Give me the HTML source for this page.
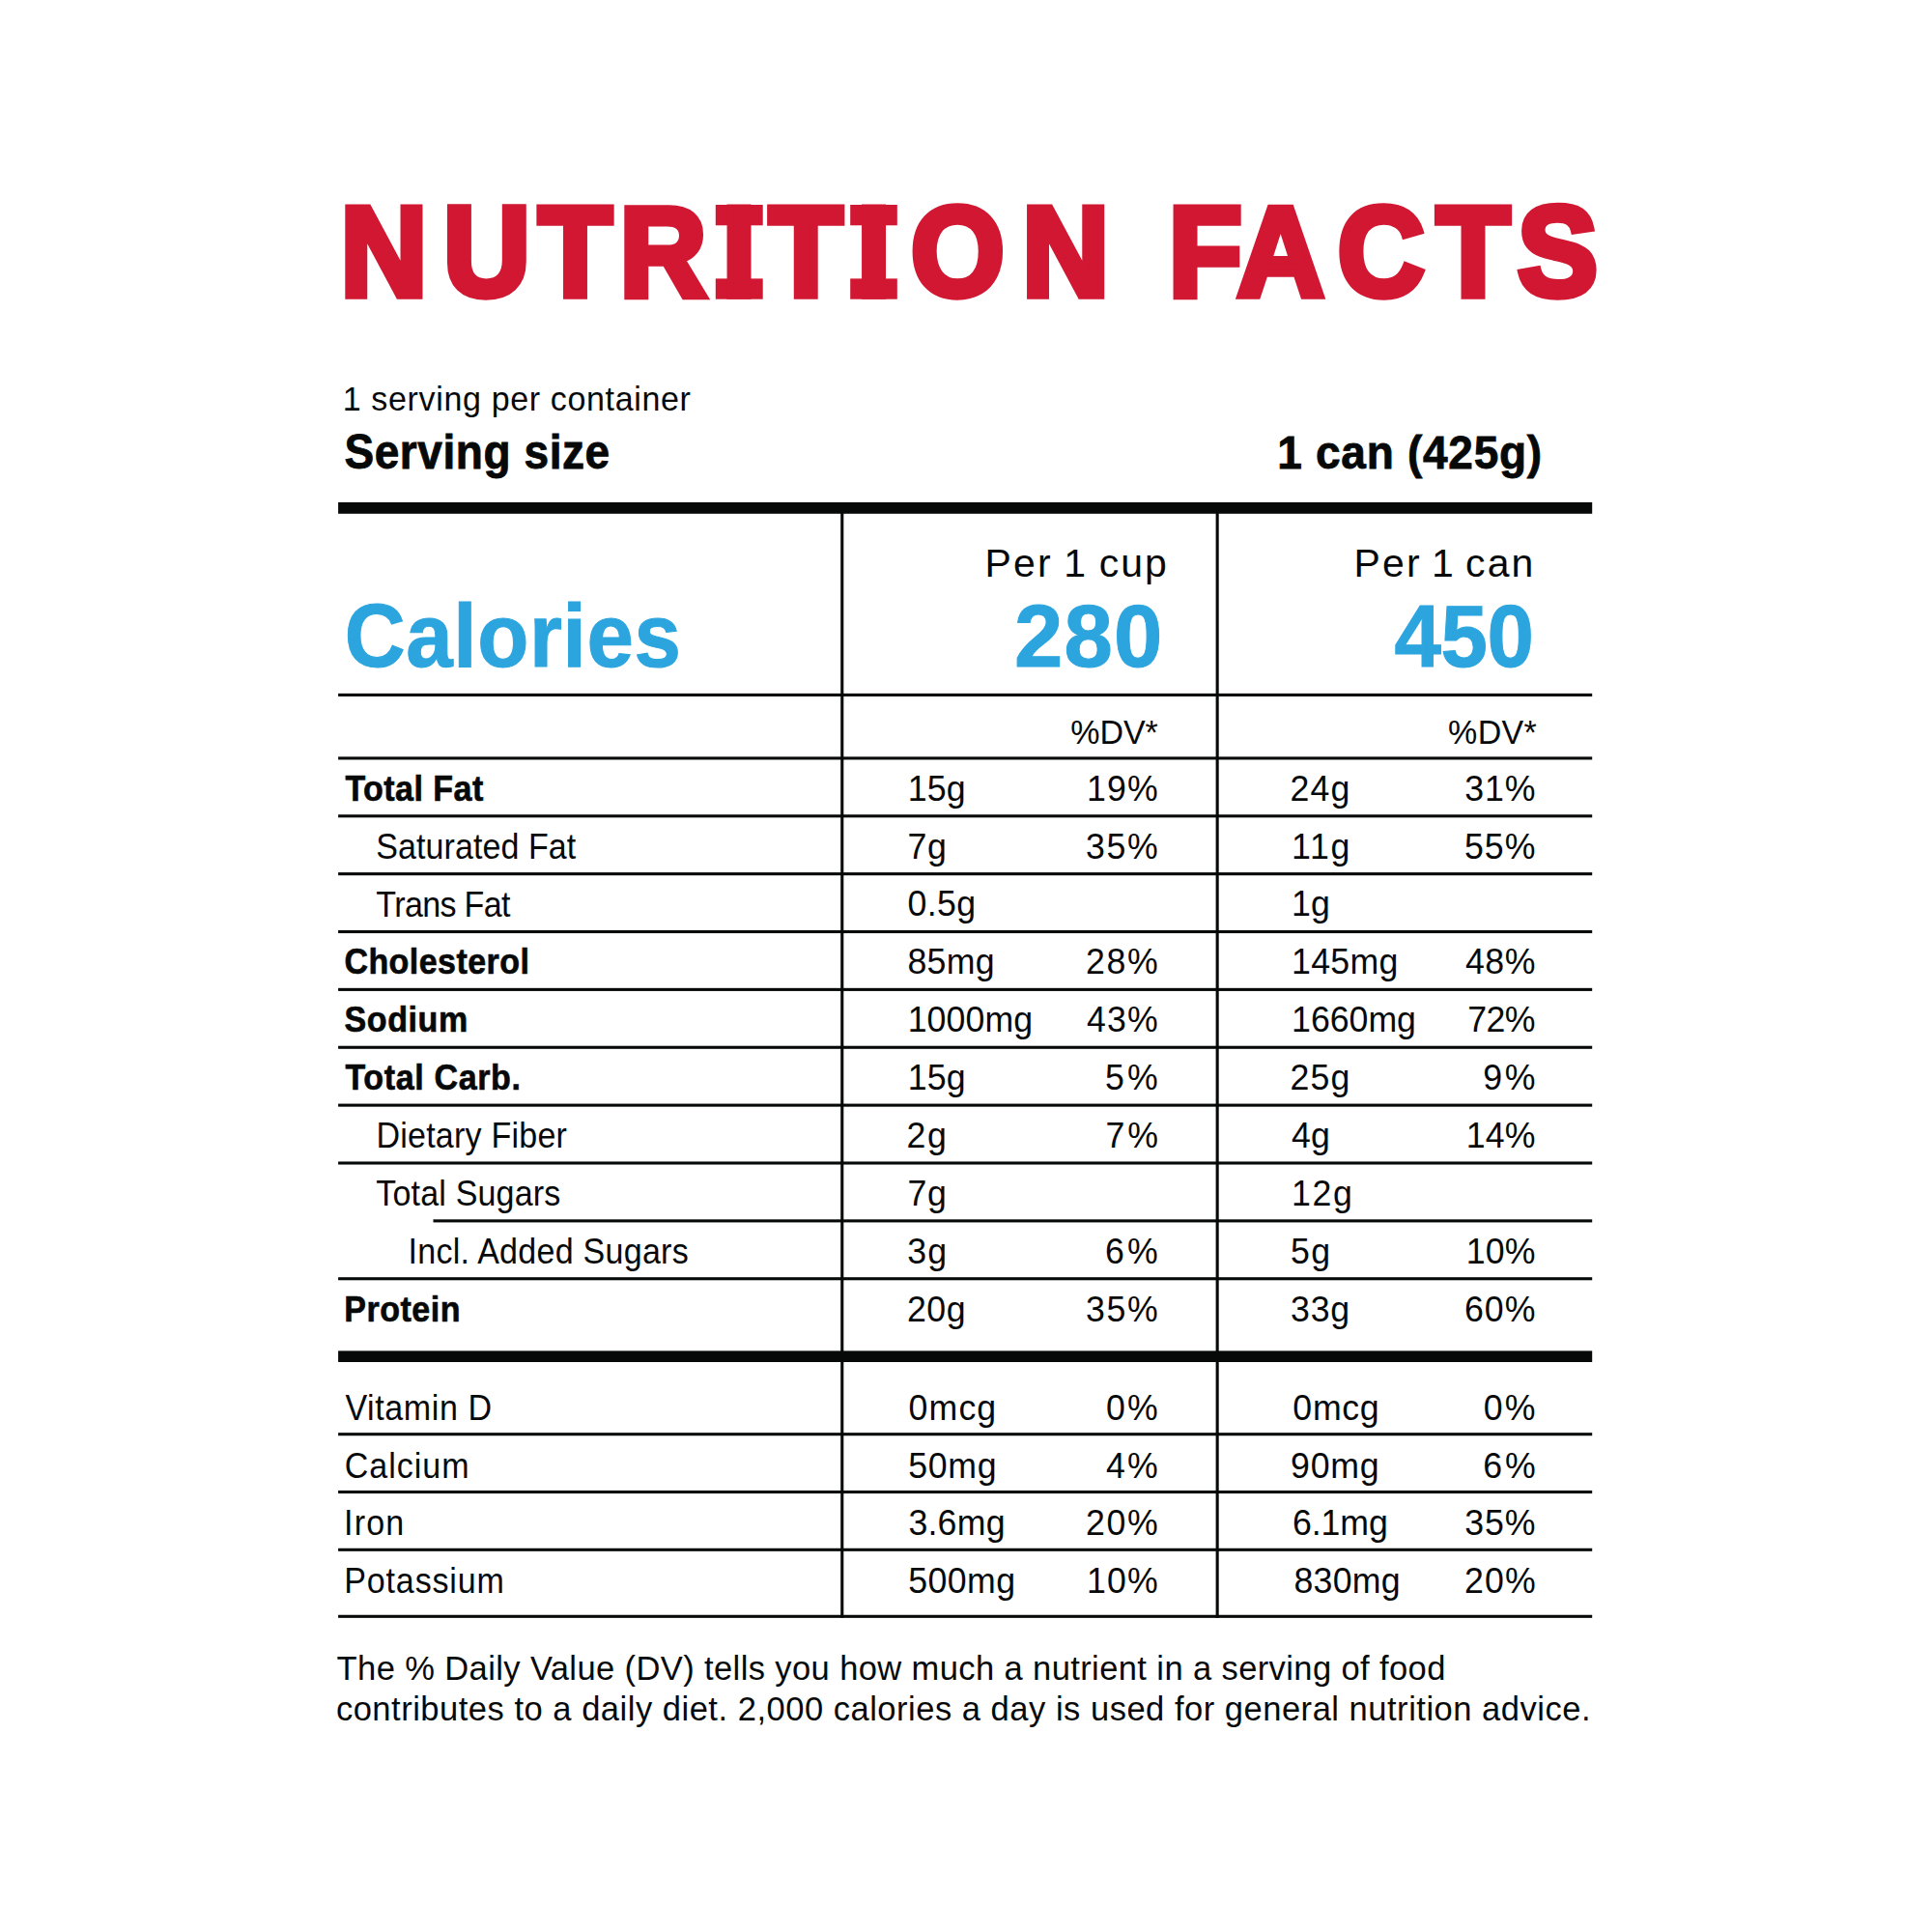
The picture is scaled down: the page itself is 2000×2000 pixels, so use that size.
<!DOCTYPE html>
<html lang="en">
<head>
<meta charset="utf-8">
<title>Nutrition Facts</title>
<style>
html,body{margin:0;padding:0;background:#fff;}
body{width:2000px;height:2000px;overflow:hidden;}
svg{display:block;}
text{font-family:"Liberation Sans",sans-serif;fill:#070909;white-space:pre;}
.b{font-weight:bold;}
</style>
</head>
<body>
<svg width="2000" height="2000" viewBox="0 0 2000 2000">
<rect x="0" y="0" width="2000" height="2000" fill="#ffffff"/>
<g id="title" fill="#d11732">
<rect x="740.8" y="212.0" width="48.9" height="21.3" fill="#d11732"/>
<rect x="740.8" y="288.4" width="48.9" height="21.3" fill="#d11732"/>
<rect x="880.2" y="212.0" width="48.6" height="21.3" fill="#d11732"/>
<rect x="880.2" y="288.4" width="48.6" height="21.3" fill="#d11732"/>
<text transform="scale(0.95 1)" x="370.94 483.18 586.8 675.34 787.12 838.27 933.91 992.59 1113.84 1226.32 1273.46 1348.06 1457.7 1565.22 1653.56" y="306" font-size="131.0" class="b" style="fill:#d11732;stroke:#d11732;stroke-width:7.4px;stroke-linejoin:miter">NUTRITION FACTS</text>
</g>
<rect x="350.1" y="717.85" width="1298.1" height="3.1" fill="#070909"/>
<rect x="350.1" y="783.35" width="1298.1" height="3.1" fill="#070909"/>
<rect x="350.1" y="843.22" width="1298.1" height="3.1" fill="#070909"/>
<rect x="350.1" y="903.09" width="1298.1" height="3.1" fill="#070909"/>
<rect x="350.1" y="962.96" width="1298.1" height="3.1" fill="#070909"/>
<rect x="350.1" y="1022.83" width="1298.1" height="3.1" fill="#070909"/>
<rect x="350.1" y="1082.7" width="1298.1" height="3.1" fill="#070909"/>
<rect x="350.1" y="1142.57" width="1298.1" height="3.1" fill="#070909"/>
<rect x="350.1" y="1202.44" width="1298.1" height="3.1" fill="#070909"/>
<rect x="350.1" y="1322.18" width="1298.1" height="3.1" fill="#070909"/>
<rect x="350.1" y="1483.15" width="1298.1" height="3.1" fill="#070909"/>
<rect x="350.1" y="1542.95" width="1298.1" height="3.1" fill="#070909"/>
<rect x="350.1" y="1602.75" width="1298.1" height="3.1" fill="#070909"/>
<rect x="350.1" y="1671.75" width="1298.1" height="3.1" fill="#070909"/>
<rect x="448.5" y="1262.31" width="1199.7" height="3.1" fill="#070909"/>
<rect x="870.2" y="526" width="3.1" height="1148.85" fill="#070909"/>
<rect x="1258.6" y="526" width="3.1" height="1148.85" fill="#070909"/>
<rect x="350.1" y="520.0" width="1298.1" height="11.8" fill="#070909"/>
<rect x="350.1" y="1398.4" width="1298.1" height="11.6" fill="#070909"/>
<g id="serving">
<text transform="translate(354.7 425.4) scale(1 1.04)" font-size="34" style="letter-spacing:0.66px">1 serving per container</text>
<text transform="translate(356.4 485.3) scale(1 1.07)" font-size="46" class="b" style="letter-spacing:0.58px;stroke:#070909;stroke-width:0.8px">Serving size</text>
<text transform="translate(1322.21 485.2) scale(1 1.05)" font-size="46" class="b" style="letter-spacing:0.73px;stroke:#070909;stroke-width:0.8px">1 can (425g)</text>
</g>
<g id="calories-header">
<text transform="translate(356.81 690.4) scale(1 1.07)" font-size="87" class="b" style="letter-spacing:0.68px;fill:#2ca5df;stroke:#2ca5df;stroke-width:1.0px">Calories</text>
<text transform="translate(1050.06 690) scale(1.04 1.05)" font-size="87" class="b" style="letter-spacing:1.14px;fill:#2ca5df;stroke:#2ca5df;stroke-width:1.0px">280</text>
<text transform="translate(1443.57 690) scale(1 1.05)" font-size="87" class="b" style="letter-spacing:-0.42px;fill:#2ca5df;stroke:#2ca5df;stroke-width:1.0px">450</text>
<text transform="translate(1019.62 596.6) scale(1.05 1.05)" font-size="39" style="letter-spacing:2px;word-spacing:-1.81px">Per 1 cup</text>
<text transform="translate(1401.62 596.6) scale(1.05 1.05)" font-size="39" style="letter-spacing:2px;word-spacing:-3.01px">Per 1 can</text>
<text transform="translate(1108.22 770.3) scale(1 1.04)" font-size="34" style="letter-spacing:-0.01px">%DV*</text>
<text transform="translate(1499.12 770.3) scale(1 1.04)" font-size="34" style="letter-spacing:0.34px">%DV*</text>
</g>
<g id="nutrients">
<g id="row-total-fat">
<text transform="translate(357.41 828.8) scale(1 1.07)" font-size="34" class="b" style="letter-spacing:0.46px;stroke:#070909;stroke-width:0.6px">Total Fat</text>
<text transform="translate(939.67 828.7) scale(1.05 1.06)" font-size="34" style="letter-spacing:0.21px">15g</text>
<text transform="translate(1124.97 828.7) scale(1.05 1.06)" font-size="34" style="letter-spacing:1.12px">19%</text>
<text transform="translate(1335.51 828.7) scale(1.05 1.06)" font-size="34" style="letter-spacing:1.04px">24g</text>
<text transform="translate(1516.19 828.7) scale(1.05 1.06)" font-size="34" style="letter-spacing:0.88px">31%</text>
</g>
<g id="row-saturated-fat">
<text transform="translate(389.22 888.7) scale(1 1.07)" font-size="34" style="letter-spacing:0.09px">Saturated Fat</text>
<text transform="translate(939.56 888.6) scale(1.05 1.06)" font-size="34" style="letter-spacing:0.6px">7g</text>
<text transform="translate(1124.09 888.6) scale(1.05 1.06)" font-size="34" style="letter-spacing:1.58px">35%</text>
<text transform="translate(1337.07 888.6) scale(1.05 1.06)" font-size="34" style="letter-spacing:1.56px">11g</text>
<text transform="translate(1515.99 888.6) scale(1.05 1.06)" font-size="34" style="letter-spacing:0.93px">55%</text>
</g>
<g id="row-trans-fat">
<text transform="translate(389.34 948.5) scale(1 1.07)" font-size="34" style="letter-spacing:-0.64px">Trans Fat</text>
<text transform="translate(939.57 948.4) scale(1.05 1.06)" font-size="34" style="letter-spacing:0.31px">0.5g</text>
<text transform="translate(1337.07 948.4) scale(1.05 1.06)" font-size="34" style="letter-spacing:0.15px">1g</text>
</g>
<g id="row-cholesterol">
<text transform="translate(356.38 1008.4) scale(1 1.07)" font-size="34" class="b" style="letter-spacing:0.45px;stroke:#070909;stroke-width:0.6px">Cholesterol</text>
<text transform="translate(939.38 1008.3) scale(1.05 1.06)" font-size="34" style="letter-spacing:0.29px">85mg</text>
<text transform="translate(1123.91 1008.3) scale(1.05 1.06)" font-size="34" style="letter-spacing:1.63px">28%</text>
<text transform="translate(1337.07 1008.3) scale(1.05 1.06)" font-size="34" style="letter-spacing:0.26px">145mg</text>
<text transform="translate(1516.98 1008.3) scale(1.05 1.06)" font-size="34" style="letter-spacing:0.49px">48%</text>
</g>
<g id="row-sodium">
<text transform="translate(356.47 1068.3) scale(1 1.07)" font-size="34" class="b" style="letter-spacing:0.61px;stroke:#070909;stroke-width:0.6px">Sodium</text>
<text transform="translate(939.67 1068.2) scale(1.05 1.06)" font-size="34" style="letter-spacing:0.08px">1000mg</text>
<text transform="translate(1124.88 1068.2) scale(1.05 1.06)" font-size="34" style="letter-spacing:1.2px">43%</text>
<text transform="translate(1337.07 1068.2) scale(1.05 1.06)" font-size="34" style="letter-spacing:-0.02px">1660mg</text>
<text transform="translate(1519.26 1068.2) scale(1.05 1.06)" font-size="34" style="letter-spacing:-0.55px">72%</text>
</g>
<g id="row-total-carb">
<text transform="translate(357.41 1128.1) scale(1 1.07)" font-size="34" class="b" style="letter-spacing:0.65px;stroke:#070909;stroke-width:0.6px">Total Carb.</text>
<text transform="translate(939.67 1128) scale(1.05 1.06)" font-size="34" style="letter-spacing:0.21px">15g</text>
<text transform="translate(1143.99 1128) scale(1.05 1.06)" font-size="34" style="letter-spacing:2.98px">5%</text>
<text transform="translate(1335.51 1128) scale(1.05 1.06)" font-size="34" style="letter-spacing:1.04px">25g</text>
<text transform="translate(1535.37 1128) scale(1.05 1.06)" font-size="34" style="letter-spacing:2.43px">9%</text>
</g>
<g id="row-dietary-fiber">
<text transform="translate(389.4 1188) scale(1 1.07)" font-size="34" style="letter-spacing:0.24px">Dietary Fiber</text>
<text transform="translate(938.61 1187.9) scale(1.05 1.06)" font-size="34" style="letter-spacing:1.42px">2g</text>
<text transform="translate(1144.56 1187.9) scale(1.05 1.06)" font-size="34" style="letter-spacing:2.64px">7%</text>
<text transform="translate(1336.88 1187.9) scale(1.05 1.06)" font-size="34" style="letter-spacing:0.26px">4g</text>
<text transform="translate(1517.77 1187.9) scale(1.05 1.06)" font-size="34" style="letter-spacing:0.12px">14%</text>
</g>
<g id="row-total-sugars">
<text transform="translate(389.34 1247.9) scale(1 1.07)" font-size="34" style="letter-spacing:0.18px">Total Sugars</text>
<text transform="translate(939.56 1247.8) scale(1.05 1.06)" font-size="34" style="letter-spacing:0.6px">7g</text>
<text transform="translate(1337.07 1247.8) scale(1.05 1.06)" font-size="34" style="letter-spacing:1.57px">12g</text>
</g>
<g id="row-incl-added-sugars">
<text transform="translate(422.54 1307.8) scale(1 1.07)" font-size="34" style="letter-spacing:0.28px">Incl. Added Sugars</text>
<text transform="translate(939.19 1307.7) scale(1.05 1.06)" font-size="34" style="letter-spacing:1.06px">3g</text>
<text transform="translate(1143.95 1307.7) scale(1.05 1.06)" font-size="34" style="letter-spacing:3.06px">6%</text>
<text transform="translate(1335.89 1307.7) scale(1.05 1.06)" font-size="34" style="letter-spacing:1.4px">5g</text>
<text transform="translate(1517.77 1307.7) scale(1.05 1.06)" font-size="34" style="letter-spacing:0.12px">10%</text>
</g>
<g id="row-protein">
<text transform="translate(356.2 1367.6) scale(1 1.07)" font-size="34" class="b" style="letter-spacing:0.52px;stroke:#070909;stroke-width:0.6px">Protein</text>
<text transform="translate(939.01 1367.5) scale(1.05 1.06)" font-size="34" style="letter-spacing:0.47px">20g</text>
<text transform="translate(1124.09 1367.5) scale(1.05 1.06)" font-size="34" style="letter-spacing:1.58px">35%</text>
<text transform="translate(1336.09 1367.5) scale(1.05 1.06)" font-size="34" style="letter-spacing:0.74px">33g</text>
<text transform="translate(1515.95 1367.5) scale(1.05 1.06)" font-size="34" style="letter-spacing:0.97px">60%</text>
</g>
<g id="row-vitamin-d">
<text transform="translate(357.42 1469.7) scale(1 1.07)" font-size="34" style="letter-spacing:0.61px">Vitamin D</text>
<text transform="translate(940.57 1469.6) scale(1.05 1.06)" font-size="34" style="letter-spacing:1.07px">0mcg</text>
<text transform="translate(1144.97 1469.6) scale(1.05 1.06)" font-size="34" style="letter-spacing:2.12px">0%</text>
<text transform="translate(1338.37 1469.6) scale(1.05 1.06)" font-size="34" style="letter-spacing:0.66px">0mcg</text>
<text transform="translate(1535.67 1469.6) scale(1.05 1.06)" font-size="34" style="letter-spacing:2.12px">0%</text>
</g>
<g id="row-calcium">
<text transform="translate(356.74 1529.9) scale(1 1.07)" font-size="34" style="letter-spacing:1px">Calcium</text>
<text transform="translate(940.19 1529.8) scale(1.05 1.06)" font-size="34" style="letter-spacing:0.69px">50mg</text>
<text transform="translate(1144.98 1529.8) scale(1.05 1.06)" font-size="34" style="letter-spacing:2.1px">4%</text>
<text transform="translate(1335.97 1529.8) scale(1.05 1.06)" font-size="34" style="letter-spacing:0.77px">90mg</text>
<text transform="translate(1535.25 1529.8) scale(1.05 1.06)" font-size="34" style="letter-spacing:2.67px">6%</text>
</g>
<g id="row-iron">
<text transform="translate(355.94 1589.1) scale(1 1.07)" font-size="34" style="letter-spacing:1.25px">Iron</text>
<text transform="translate(940.39 1589) scale(1.05 1.06)" font-size="34" style="letter-spacing:0.22px">3.6mg</text>
<text transform="translate(1123.91 1589) scale(1.05 1.06)" font-size="34" style="letter-spacing:1.63px">20%</text>
<text transform="translate(1337.95 1589) scale(1.05 1.06)" font-size="34" style="letter-spacing:-0.07px">6.1mg</text>
<text transform="translate(1516.19 1589) scale(1.05 1.06)" font-size="34" style="letter-spacing:0.88px">35%</text>
</g>
<g id="row-potassium">
<text transform="translate(356.3 1649.1) scale(1 1.07)" font-size="34" style="letter-spacing:0.85px">Potassium</text>
<text transform="translate(940.19 1649) scale(1.05 1.06)" font-size="34" style="letter-spacing:0.4px">500mg</text>
<text transform="translate(1124.97 1649) scale(1.05 1.06)" font-size="34" style="letter-spacing:1.12px">10%</text>
<text transform="translate(1339.38 1649) scale(1.05 1.06)" font-size="34" style="letter-spacing:0.29px">830mg</text>
<text transform="translate(1516.01 1649) scale(1.05 1.06)" font-size="34" style="letter-spacing:1.05px">20%</text>
</g>
</g>
<g id="footnote">
<text transform="translate(348.62 1738.8) scale(1 1.04)" font-size="34.5" style="letter-spacing:0.4px">The % Daily Value (DV) tells you how much a nutrient in a serving of food</text>
<text transform="translate(347.89 1780.8) scale(1 1.04)" font-size="34.5" style="letter-spacing:0.52px">contributes to a daily diet. 2,000 calories a day is used for general nutrition advice.</text>
</g>
</svg>
</body>
</html>
